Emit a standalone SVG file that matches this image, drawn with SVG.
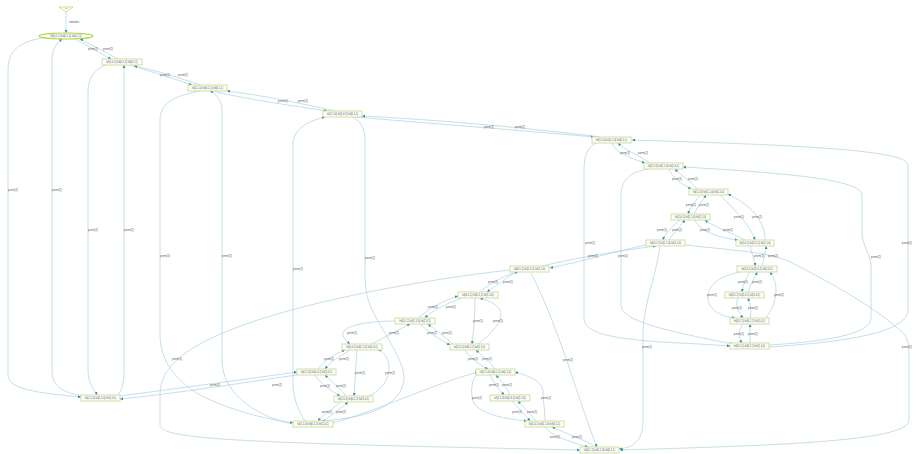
<svg xmlns="http://www.w3.org/2000/svg" width="916" height="454" viewBox="0 0 916 454">
<style>
.n rect{fill:#fff;stroke:#cddc92;stroke-width:0.9}
.n text{font-family:"Liberation Sans",Arial,sans-serif;font-size:2.6px;fill:#444;text-anchor:middle}
.e path{fill:none;stroke:#a6cde0;stroke-width:0.65;marker-end:url(#a)}
.l{font-family:"Liberation Sans",Arial,sans-serif;font-size:2.8px;fill:#555;text-anchor:middle}
</style>
<defs>
<marker id="a" viewBox="0 0 10 10" refX="10" refY="5" markerWidth="3" markerHeight="3" markerUnits="userSpaceOnUse" orient="auto"><path d="M0,0 L10,5 L0,10z" fill="#2f8fa3"/></marker>
</defs>
<rect width="916" height="454" fill="#fff"/>
<g id="edges" class="e">
<path d="M66,12 L66,33"/>
<path d="M75,39 C90,47 100,53 111,59"/>
<path d="M118,59 C105,52 92,45 80,39"/>
<path d="M130,65 C155,73 175,79 192,85"/>
<path d="M200,85 C180,78 155,70 134,66"/>
<path d="M212,91 C250,100 295,106 327,111"/>
<path d="M335,111 C300,103 260,95 227,91"/>
<path d="M355,117 C450,125 540,132 594,137"/>
<path d="M600,137 C530,128 440,120 362,116"/>
<path d="M42,38 C20,42 8,50 8,70 L8,375 C8,390 40,393 81,397"/>
<path d="M83,396 C60,392 52,385 52,370 L52,60 C52,48 58,42 62,39"/>
<path d="M106,65 C94,70 88,78 88,92 L88,370 C88,385 95,390 97,395"/>
<path d="M118,395 C122,390 124,383 124,370 L124,65"/>
<path d="M200,91 C180,95 160,100 160,120 L160,335 C160,360 175,380 200,395 C230,410 260,418 293,423"/>
<path d="M293,424 C250,415 222,390 222,360 L222,110 C222,100 215,93 210,91"/>
<path d="M305,421 C298,410 293,398 293,383 L293,145 C293,130 305,122 325,117"/>
<path d="M352,117 C360,120 365,128 365,140 L365,270 C365,285 366,295 370,305 C380,330 410,365 403,385 C395,410 360,418 322,421"/>
<path d="M596,143 C588,147 584,155 584,170 L584,318 C584,335 620,340 680,343 C700,344 715,345 730,346"/>
<path d="M769,347 C830,343 908,335 908,310 L908,165 C908,150 800,145 632,140"/>
<path d="M648,169 C630,172 621,180 621,195 L621,305 C621,320 660,330 733,344"/>
<path d="M769,345 C820,342 871,335 871,318 L871,265 C871,255 862,245 862,233 L862,195 C862,180 790,173 683,167"/>
<path d="M612,143 C615,152 630,158 645,163"/>
<path d="M650,163 C638,155 625,150 618,143"/>
<path d="M669,169 C672,178 682,184 691,189"/>
<path d="M697,189 C690,180 680,175 675,169"/>
<path d="M700,195 C695,202 690,208 688,214"/>
<path d="M694,214 C697,207 703,200 706,195"/>
<path d="M680,220 C672,227 665,233 663,240"/>
<path d="M669,240 C673,233 680,227 685,220"/>
<path d="M695,220 C700,232 720,238 738,240"/>
<path d="M745,240 C730,232 712,226 705,220"/>
<path d="M720,195 C735,210 750,225 755,240"/>
<path d="M765,240 C765,220 750,205 728,194"/>
<path d="M750,246 C752,255 755,260 755,266"/>
<path d="M762,266 C764,258 766,252 766,246"/>
<path d="M750,272 C745,280 743,285 742,292"/>
<path d="M748,292 C750,285 755,278 757,272"/>
<path d="M740,272 C720,276 708,285 708,297 C708,310 720,316 735,318"/>
<path d="M766,318 C772,310 776,300 776,290 C776,280 772,275 770,272"/>
<path d="M738,298 C735,305 738,312 743,318"/>
<path d="M750,318 C752,310 750,304 748,298"/>
<path d="M743,324 C738,331 738,337 742,343"/>
<path d="M750,343 L750,324"/>
<path d="M646,245 C620,250 580,262 550,268"/>
<path d="M542,266 C575,258 625,250 656,246"/>
<path d="M660,246 C655,280 645,300 643,330 L643,420 C643,440 635,447 619,449"/>
<path d="M685,245 C730,250 770,252 790,262 C830,282 880,310 905,335 C908,340 909,345 909,355 L909,420 C909,440 800,445 620,450"/>
<path d="M515,272 C505,280 495,286 487,292"/>
<path d="M480,292 C490,283 505,275 518,272"/>
<path d="M510,270 C420,280 300,302 230,330 C180,350 160,370 160,395 L160,425 C160,440 250,443 580,450"/>
<path d="M531,273 C545,300 560,340 570,370 C580,400 590,430 597,447"/>
<path d="M475,298 C475,315 474,330 472,344"/>
<path d="M478,344 C490,335 505,320 500,310 C495,302 485,300 480,298"/>
<path d="M418,318 C430,308 445,300 458,296"/>
<path d="M462,298 C445,304 430,312 425,318"/>
<path d="M395,321 C370,321 350,325 345,330 C340,335 345,340 350,344"/>
<path d="M372,344 C385,337 398,330 410,324"/>
<path d="M420,324 C430,333 440,340 450,345"/>
<path d="M452,344 C445,336 435,330 428,324"/>
<path d="M350,350 C340,356 330,362 325,369"/>
<path d="M318,369 C325,360 335,354 345,350"/>
<path d="M357,350 L354,396"/>
<path d="M368,396 C385,390 395,370 385,355 C383,352 380,350 378,350"/>
<path d="M315,375 C320,383 330,390 340,396"/>
<path d="M346,396 C340,388 330,380 325,375"/>
<path d="M340,402 C332,410 322,416 318,421"/>
<path d="M324,421 C332,414 342,408 348,402"/>
<path d="M120,396 C180,388 240,380 297,372"/>
<path d="M297,375 C240,383 180,393 120,399"/>
<path d="M333,423 C380,410 430,385 478,372"/>
<path d="M465,350 C470,358 480,365 488,369"/>
<path d="M495,369 C490,362 482,356 476,350"/>
<path d="M490,375 C493,383 500,390 504,395"/>
<path d="M510,395 C507,387 500,380 496,375"/>
<path d="M478,373 C470,380 470,398 475,405 C485,415 505,419 527,421"/>
<path d="M545,421 C545,410 543,400 543,392 C543,382 530,376 515,372"/>
<path d="M512,401 C518,408 525,414 530,421"/>
<path d="M536,421 C530,413 522,406 518,401"/>
<path d="M545,427 C550,435 570,442 588,447"/>
<path d="M596,447 C585,440 565,433 552,427"/>
</g>
<g id="edge-labels">
<text class="l" x="74" y="23">initialize</text>
<text class="l" x="93" y="50">perm(1)</text>
<text class="l" x="108" y="50">perm(2)</text>
<text class="l" x="165" y="76">perm(1)</text>
<text class="l" x="183" y="76">perm(2)</text>
<text class="l" x="283" y="102">perm(1)</text>
<text class="l" x="303" y="102">perm(2)</text>
<text class="l" x="489" y="128">perm(1)</text>
<text class="l" x="520" y="128">perm(2)</text>
<text class="l" x="13" y="191">perm(1)</text>
<text class="l" x="57" y="191">perm(2)</text>
<text class="l" x="93" y="231">perm(1)</text>
<text class="l" x="129" y="231">perm(2)</text>
<text class="l" x="165" y="257">perm(1)</text>
<text class="l" x="227" y="257">perm(2)</text>
<text class="l" x="298" y="270">perm(1)</text>
<text class="l" x="370" y="259">perm(2)</text>
<text class="l" x="590" y="244">perm(1)</text>
<text class="l" x="907" y="244">perm(2)</text>
<text class="l" x="876" y="258">perm(2)</text>
<text class="l" x="625" y="154">perm(1)</text>
<text class="l" x="643" y="154">perm(2)</text>
<text class="l" x="677" y="180">perm(1)</text>
<text class="l" x="693" y="180">perm(2)</text>
<text class="l" x="691" y="206">perm(1)</text>
<text class="l" x="704" y="206">perm(2)</text>
<text class="l" x="662" y="231">perm(1)</text>
<text class="l" x="677" y="231">perm(2)</text>
<text class="l" x="705" y="231">perm(1)</text>
<text class="l" x="728" y="231">perm(2)</text>
<text class="l" x="739" y="218">perm(1)</text>
<text class="l" x="757" y="218">perm(2)</text>
<text class="l" x="759" y="257">perm(1)</text>
<text class="l" x="773" y="257">perm(2)</text>
<text class="l" x="743" y="283">perm(1)</text>
<text class="l" x="757" y="283">perm(2)</text>
<text class="l" x="712" y="296">perm(1)</text>
<text class="l" x="779" y="296">perm(2)</text>
<text class="l" x="737" y="309">perm(1)</text>
<text class="l" x="753" y="309">perm(2)</text>
<text class="l" x="739" y="335">perm(1)</text>
<text class="l" x="753" y="335">perm(2)</text>
<text class="l" x="593" y="257">perm(1)</text>
<text class="l" x="623" y="257">perm(2)</text>
<text class="l" x="647" y="348">perm(1)</text>
<text class="l" x="907" y="348">perm(2)</text>
<text class="l" x="493" y="283">perm(1)</text>
<text class="l" x="508" y="283">perm(2)</text>
<text class="l" x="177" y="360">perm(1)</text>
<text class="l" x="568" y="361">perm(2)</text>
<text class="l" x="478" y="322">perm(1)</text>
<text class="l" x="498" y="322">perm(2)</text>
<text class="l" x="433" y="308">perm(1)</text>
<text class="l" x="451" y="308">perm(2)</text>
<text class="l" x="352" y="334">perm(1)</text>
<text class="l" x="394" y="334">perm(2)</text>
<text class="l" x="432" y="334">perm(1)</text>
<text class="l" x="447" y="334">perm(2)</text>
<text class="l" x="329" y="360">perm(1)</text>
<text class="l" x="344" y="360">perm(2)</text>
<text class="l" x="360" y="374">perm(1)</text>
<text class="l" x="390" y="374">perm(2)</text>
<text class="l" x="325" y="387">perm(1)</text>
<text class="l" x="341" y="387">perm(2)</text>
<text class="l" x="327" y="413">perm(1)</text>
<text class="l" x="341" y="413">perm(2)</text>
<text class="l" x="215" y="386">perm(1)</text>
<text class="l" x="277" y="386">perm(2)</text>
<text class="l" x="473" y="360">perm(1)</text>
<text class="l" x="487" y="360">perm(2)</text>
<text class="l" x="494" y="386">perm(1)</text>
<text class="l" x="507" y="386">perm(2)</text>
<text class="l" x="477" y="399">perm(1)</text>
<text class="l" x="546" y="399">perm(2)</text>
<text class="l" x="517" y="413">perm(1)</text>
<text class="l" x="532" y="413">perm(2)</text>
<text class="l" x="555" y="438">perm(1)</text>
<text class="l" x="577" y="438">perm(2)</text>
</g>
<g id="start"><polygon points="59,7 73,7 66,12" fill="#fff" stroke="#c3d86a" stroke-width="0.8"/><text x="66" y="9.3" style="font-family:'Liberation Sans',Arial,sans-serif;font-size:2px;fill:#666;text-anchor:middle">init</text></g>
<g id="N0" class="n"><ellipse cx="66" cy="36" rx="27" ry="3" fill="#fff" stroke="#b4d44a" stroke-width="1.2"/><text x="66" y="37">lvl(0,1,1) lvl(0,1,1) lvl(0,1,1)</text></g>
<g id="N1" class="n"><rect x="102" y="59" width="40" height="6"/><text x="122" y="63">lvl(1,0,1) lvl(0,1,1) lvl(0,1,1)</text></g>
<g id="N2" class="n"><rect x="188" y="85" width="39" height="6"/><text x="207.5" y="89">lvl(1,1,0) lvl(0,1,1) lvl(0,1,1)</text></g>
<g id="N3" class="n"><rect x="323" y="111" width="39" height="6"/><text x="342.5" y="115">lvl(1,1,0) lvl(1,0,1) lvl(0,1,1)</text></g>
<g id="N4" class="n"><rect x="592" y="137" width="39" height="6"/><text x="611.5" y="141">lvl(1,1,0) lvl(1,1,0) lvl(0,1,1)</text></g>
<g id="N5" class="n"><rect x="644" y="163" width="39" height="6"/><text x="663.5" y="167">lvl(1,1,0) lvl(1,1,0) lvl(1,0,1)</text></g>
<g id="N6" class="n"><rect x="689" y="189" width="39" height="6"/><text x="708.5" y="193">lvl(1,1,0) lvl(1,1,0) lvl(1,1,0)</text></g>
<g id="N7" class="n"><rect x="671" y="214" width="39" height="6"/><text x="690.5" y="218">lvl(1,0,1) lvl(1,1,0) lvl(1,1,0)</text></g>
<g id="N8" class="n"><rect x="646" y="240" width="39" height="6"/><text x="665.5" y="244">lvl(0,1,1) lvl(1,1,0) lvl(1,1,0)</text></g>
<g id="N9" class="n"><rect x="736" y="240" width="38" height="6"/><text x="755" y="244">lvl(1,0,1) lvl(1,0,1) lvl(1,1,0)</text></g>
<g id="N10" class="n"><rect x="737" y="266" width="40" height="6"/><text x="757" y="270">lvl(1,0,1) lvl(1,0,1) lvl(1,0,1)</text></g>
<g id="N11" class="n"><rect x="725" y="292" width="39" height="6"/><text x="744.5" y="296">lvl(0,1,1) lvl(1,0,1) lvl(1,0,1)</text></g>
<g id="N12" class="n"><rect x="730" y="318" width="39" height="6"/><text x="749.5" y="322">lvl(0,1,1) lvl(0,1,1) lvl(1,0,1)</text></g>
<g id="N13" class="n"><rect x="730" y="343" width="39" height="6"/><text x="749.5" y="347">lvl(0,1,1) lvl(0,1,1) lvl(1,1,0)</text></g>
<g id="N14" class="n"><rect x="510" y="266" width="39" height="6"/><text x="529.5" y="270">lvl(0,1,1) lvl(1,0,1) lvl(1,1,0)</text></g>
<g id="N15" class="n"><rect x="458" y="292" width="40" height="6"/><text x="478" y="296">lvl(0,1,1) lvl(0,1,1) lvl(1,1,0)</text></g>
<g id="N16" class="n"><rect x="450" y="344" width="39" height="6"/><text x="469.5" y="348">lvl(1,0,1) lvl(0,1,1) lvl(1,1,0)</text></g>
<g id="N17" class="n"><rect x="395" y="318" width="40" height="6"/><text x="415" y="322">lvl(0,1,1) lvl(1,1,0) lvl(1,0,1)</text></g>
<g id="N18" class="n"><rect x="342" y="344" width="40" height="6"/><text x="362" y="348">lvl(1,0,1) lvl(1,1,0) lvl(1,0,1)</text></g>
<g id="N19" class="n"><rect x="297" y="369" width="39" height="6"/><text x="316.5" y="373">lvl(1,1,0) lvl(1,0,1) lvl(1,0,1)</text></g>
<g id="N20" class="n"><rect x="334" y="396" width="39" height="6"/><text x="353.5" y="400">lvl(1,0,1) lvl(0,1,1) lvl(1,0,1)</text></g>
<g id="N21" class="n"><rect x="293" y="421" width="40" height="6"/><text x="313" y="425">lvl(1,1,0) lvl(0,1,1) lvl(1,0,1)</text></g>
<g id="N22" class="n"><rect x="476" y="369" width="39" height="6"/><text x="495.5" y="373">lvl(1,1,0) lvl(0,1,1) lvl(1,1,0)</text></g>
<g id="N23" class="n"><rect x="490" y="395" width="40" height="6"/><text x="510" y="399">lvl(1,1,0) lvl(1,0,1) lvl(1,1,0)</text></g>
<g id="N24" class="n"><rect x="525" y="421" width="39" height="6"/><text x="544.5" y="425">lvl(1,0,1) lvl(1,1,0) lvl(0,1,1)</text></g>
<g id="N25" class="n"><rect x="580" y="447" width="39" height="6"/><text x="599.5" y="451">lvl(0,1,1) lvl(1,1,0) lvl(0,1,1)</text></g>
<g id="N26" class="n"><rect x="81" y="395" width="39" height="6"/><text x="100.5" y="399">lvl(1,1,0) lvl(1,1,0) lvl(1,0,1)</text></g>
</svg>
